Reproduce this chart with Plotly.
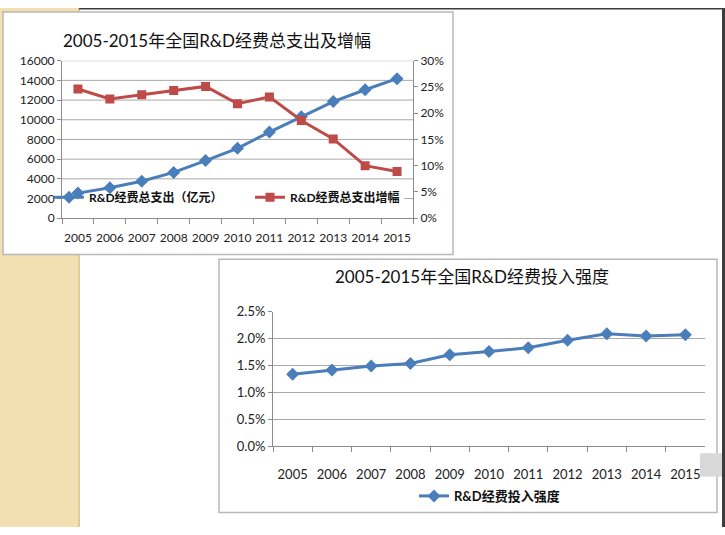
import plotly.graph_objects as go

W, H = 725, 535

years = ['2005', '2006', '2007', '2008', '2009', '2010', '2011', '2012', '2013', '2014', '2015']
# R&D 经费总支出（亿元）
rd_spend = [2550, 3100, 3750, 4650, 5850, 7100, 8750, 10300, 11850, 13050, 14170]
# 总支出增幅
rd_growth = [0.246, 0.227, 0.235, 0.243, 0.251, 0.218, 0.231, 0.186, 0.151, 0.100, 0.089]
# 投入强度
rd_intensity = [0.0134, 0.0142, 0.0149, 0.0154, 0.0170, 0.0176, 0.0183, 0.0197, 0.0209, 0.0205, 0.0207]

spend_ticks = [0, 2000, 4000, 6000, 8000, 10000, 12000, 14000, 16000]

BLUE = '#4A7EBB'
RED = '#BE4B48'
AXIS = '#8C8C8C'
GRID = '#A8A8A8'
TXT = '#222222'
FONT = 'Lato, "Noto Sans CJK SC", sans-serif'


def px(x):
    return x / W


def py(y):
    return 1 - y / H


fig = go.Figure()

# chart 1: total spend (left axis) and growth (right axis)
fig.add_trace(go.Scatter(x=years, y=rd_spend, mode='lines+markers',
                         name='R&D经费总支出（亿元）',
                         line=dict(color=BLUE, width=3),
                         marker=dict(symbol='diamond', size=10, color=BLUE),
                         xaxis='x', yaxis='y', legend='legend'))
fig.add_trace(go.Scatter(x=years, y=rd_growth, mode='lines+markers',
                         name='R&D经费总支出增幅',
                         line=dict(color=RED, width=3),
                         marker=dict(symbol='square', size=9, color=RED),
                         xaxis='x', yaxis='y2', legend='legend2'))

# chart 2: intensity
fig.add_trace(go.Scatter(x=years, y=rd_intensity, mode='lines+markers',
                         name='R&D经费投入强度',
                         line=dict(color=BLUE, width=3),
                         marker=dict(symbol='diamond', size=10, color=BLUE),
                         xaxis='x3', yaxis='y3', legend='legend3'))

tick_font = dict(family=FONT, size=12, color=TXT)
legend_font = dict(family=FONT, size=12, color='#111111', weight='bold')

fig.update_layout(
    width=W, height=H,
    margin=dict(l=0, r=0, t=0, b=0),
    paper_bgcolor='white',
    plot_bgcolor='rgba(0,0,0,0)',
    font=dict(family=FONT, color=TXT),
    showlegend=True,
    xaxis=dict(domain=[px(62), px(413)], anchor='y', type='category',
               range=[-0.5, 10.5], showline=True, linecolor=AXIS,
               ticks='outside', tickson='boundaries', ticklen=5, tickcolor=AXIS,
               showgrid=False, tickfont=tick_font, tickangle=0, ticklabelstandoff=8),
    yaxis=dict(domain=[py(216.7), py(54.3)], anchor='x', range=[0, 16000],
               tickvals=spend_ticks, tickformat='d', showgrid=False,
               zeroline=False, showline=True, linecolor=AXIS, ticks='outside',
               ticklen=4, tickcolor=AXIS, tickfont=tick_font),
    yaxis2=dict(overlaying='y', side='right', anchor='x', range=[0, 0.30],
                dtick=0.05, tickformat='.0%', showgrid=False, zeroline=False,
                showline=True, linecolor=AXIS, ticks='outside', ticklen=4,
                tickcolor=AXIS, tickfont=tick_font),
    xaxis3=dict(domain=[px(273), px(705)], anchor='y3', type='category',
                range=[-0.5, 10.5], showline=True, linecolor=AXIS,
                ticks='outside', tickson='boundaries', ticklen=5, tickcolor=AXIS,
                showgrid=False, tickfont=dict(family=FONT, size=13, color=TXT),
                tickangle=0, ticklabelstandoff=16),
    yaxis3=dict(domain=[py(452), py(313)], anchor='x3', range=[0, 0.025],
                dtick=0.005, tickformat='.1%', showgrid=True, gridcolor=GRID,
                zeroline=False, showline=True, linecolor=AXIS, ticks='outside',
                ticklen=4, tickcolor=AXIS,
                tickfont=dict(family=FONT, size=13, color=TXT)),
    legend=dict(visible=True, x=px(49), y=py(195), xanchor='left', yanchor='middle',
                bgcolor='rgba(0,0,0,0)', font=legend_font, itemwidth=30),
    legend2=dict(x=px(250), y=py(195), xanchor='left', yanchor='middle',
                 bgcolor='rgba(0,0,0,0)', font=legend_font, itemwidth=30),
    legend3=dict(x=px(414), y=py(503), xanchor='left', yanchor='middle',
                 bgcolor='rgba(0,0,0,0)',
                 font=dict(family=FONT, size=13, color='#111111', weight='bold'),
                 itemwidth=30),
)

# slide background: beige strip, chart boxes, dark edges
fig.add_shape(type='rect', xref='paper', yref='paper', x0=0, x1=px(79), y0=0, y1=1,
              fillcolor='#F2DFB2', line=dict(width=0), layer='below')
fig.add_shape(type='line', xref='paper', yref='paper', x0=px(79), x1=px(79), y0=0, y1=1,
              line=dict(color='#E2CB98', width=2), layer='below')
fig.add_shape(type='rect', xref='paper', yref='paper', x0=px(79), x1=1,
              y0=py(1.5), y1=1, fillcolor='#3C3C3C', line=dict(width=0), layer='below')
fig.add_shape(type='rect', xref='paper', yref='paper', x0=px(3), x1=px(453),
              y0=py(254), y1=py(4), fillcolor='white',
              line=dict(color='#B8B8B8', width=1.5), layer='below')
fig.add_shape(type='rect', xref='paper', yref='paper', x0=px(219), x1=px(717),
              y0=py(520), y1=py(259), fillcolor='white',
              line=dict(color='#B8B8B8', width=1.5), layer='below')
fig.add_shape(type='rect', xref='paper', yref='paper', x0=px(700), x1=px(722),
              y0=py(483), y1=py(459), fillcolor='#D8D8D8',
              line=dict(width=0), layer='below')
fig.add_shape(type='rect', xref='paper', yref='paper', x0=px(722), x1=1,
              y0=0, y1=1, fillcolor='#3C3C3C', line=dict(width=0), layer='below')

# chart-1 gridlines; the 2000 line is hidden behind the legend row
for v in spend_ticks[1:]:
    start = 0.975 if v == 2000 else 0
    fig.add_shape(type='line', xref='x domain', yref='y', x0=start, x1=1, y0=v, y1=v,
                  line=dict(color=GRID, width=1), layer='below')

# titles
fig.add_annotation(text='2005-2015年全国R&D经费总支出及增幅', xref='paper', yref='paper',
                   x=px(217), y=py(33), xanchor='center', yanchor='middle',
                   showarrow=False, font=dict(family=FONT, size=17, color='#111111'))
fig.add_annotation(text='2005-2015年全国R&D经费投入强度', xref='paper', yref='paper',
                   x=px(472), y=py(277), xanchor='center', yanchor='middle',
                   showarrow=False, font=dict(family=FONT, size=17, color='#111111'))

fig.write_html('out.html', config={'displayModeBar': False},
               post_script="document.body.style.margin='0px';")
